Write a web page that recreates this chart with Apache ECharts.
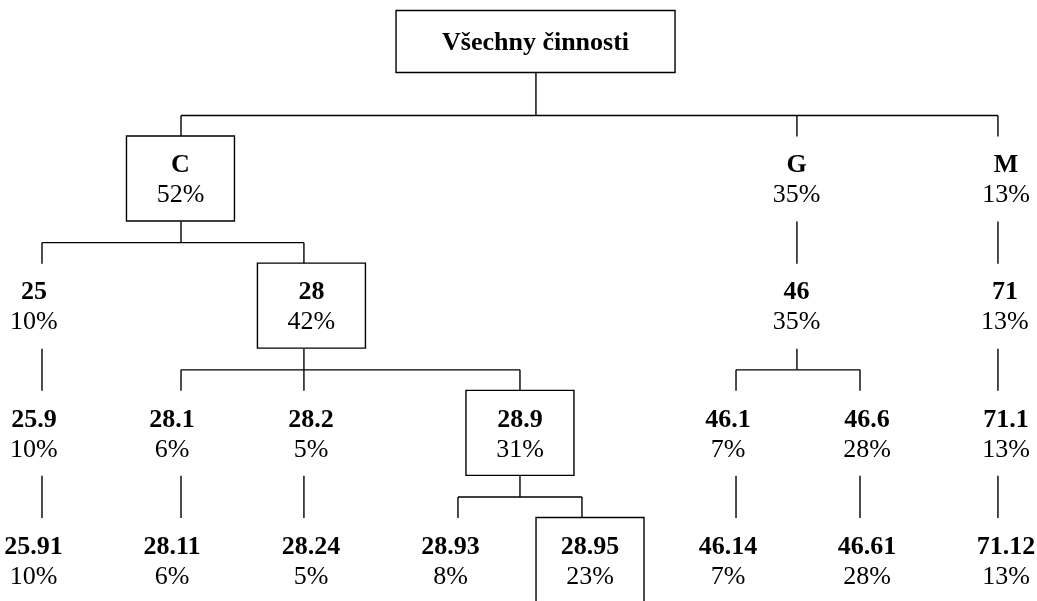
<!DOCTYPE html>
<html>
<head>
<meta charset="utf-8">
<script src="https://cdn.jsdelivr.net/npm/echarts@6/dist/echarts.min.js"></script>
<style>
html,body{margin:0;padding:0;background:#fff;}
#chart{width:1037px;height:601px;}
</style>
</head>
<body>
<div id="chart"></div>
<script>
// ---- data ----
const nodeNames = ['Všechny činnosti','C','G','M','25','28','46','71','25.9','28.1','28.2','28.9','46.1','46.6','71.1','25.91','28.11','28.24','28.93','28.95','46.14','46.61','71.12'];
const nodeShares = [null,52,35,13,10,42,35,13,10,6,5,31,7,28,13,10,6,5,8,23,7,28,13];
const nodeParents = [-1,0,0,0,1,1,2,3,4,5,5,5,6,6,7,8,9,10,11,11,12,13,14];
const boxedNodes = ['Všechny činnosti','C','28','28.9','28.95'];
// ---- layout (in leaf-column units) ----
// column of each node's label / box
const labelCols = [3.614,1.014,5.525,7.059,-0.059,1.973,5.525,7.051,-0.059,0.952,1.970,3.5,5.023,6.041,7.059,-0.062,0.952,1.970,2.991,4.013,5.023,6.041,7.059];
// column of each node's connector line
const linkCols = [3.617,1.018,5.528,7,0,1.918,5.528,7,0,1.018,1.918,3.5,5.082,5.99,7,0,1.018,1.918,3.046,3.954,5.082,5.99,7];

function depthOf(i){let d=0;while(nodeParents[i]>=0){i=nodeParents[i];d++;}return d;}
const seriesData = nodeNames.map((n,i)=>[labelCols[i], depthOf(i), i]);

const FONT = '"Liberation Serif","Times New Roman",serif';
const FS = 26;
const LW = 1.4;
const BOX_W = 108, BOX_H = 85, ROOT_W = 279, ROOT_H = 62;

function line(x1,y1,x2,y2){
  return {type:'line',shape:{x1,y1,x2,y2},style:{stroke:'#000',lineWidth:LW}};
}
function txt(x,y,s,bold){
  return {type:'text',style:{x,y,text:s,fill:'#000',font:(bold?'bold ':'')+FS+'px '+FONT,textAlign:'center',textVerticalAlign:'middle'}};
}

function renderItem(params, api){
  const i = api.value(2);
  const depth = api.value(1);
  const p = api.coord([api.value(0), depth]);
  const cx = p[0], cy = p[1];
  const lx = api.coord([linkCols[i], depth])[0];
  const children = [];
  nodeParents.forEach((par,k)=>{ if(par===i) children.push(k); });
  const els = [];
  const childPts = children.map(k=>api.coord([linkCols[k], depth+1]));
  let bottom = cy + 43;
  if (nodeParents[i] < 0) {
    const barY = childPts[0][1] - 63;
    const b = barY - 43, t = b - ROOT_H;
    bottom = b;
    els.push({type:'rect',shape:{x:cx-ROOT_W/2,y:t,width:ROOT_W,height:ROOT_H},style:{fill:'#fff',stroke:'#000',lineWidth:LW}});
    els.push(txt(cx,(t+b)/2+1.5,nodeNames[i],true));
  } else {
    if (boxedNodes.indexOf(nodeNames[i])>=0) {
      els.push({type:'rect',shape:{x:cx-BOX_W/2,y:cy-BOX_H/2,width:BOX_W,height:BOX_H},style:{fill:'#fff',stroke:'#000',lineWidth:LW}});
    }
    els.push(txt(cx,cy-13,nodeNames[i],true));
    els.push(txt(cx,cy+17,nodeShares[i]+'%',false));
  }
  if (children.length===1) {
    els.push(line(lx,bottom,childPts[0][0],childPts[0][1]-42));
  } else if (children.length>1) {
    const barY = childPts[0][1]-63;
    els.push(line(lx,bottom,lx,barY));
    const xs = childPts.map(c=>c[0]);
    els.push(line(Math.min(...xs),barY,Math.max(...xs),barY));
    childPts.forEach(c=>els.push(line(c[0],barY,c[0],c[1]-42)));
  }
  return {type:'group',children:els};
}

const chart = echarts.init(document.getElementById('chart'));
chart.setOption({
  animation:false,
  backgroundColor:'#fff',
  grid:{left:0,right:0,top:0,bottom:0},
  xAxis:{type:'value',min:-0.3075,max:7.286,show:false},
  yAxis:{type:'value',inverse:true,min:-0.4036,max:4.3224,show:false},
  series:[{type:'custom',renderItem,data:seriesData,encode:{x:0,y:1},clip:false}]
});
</script>
</body>
</html>
